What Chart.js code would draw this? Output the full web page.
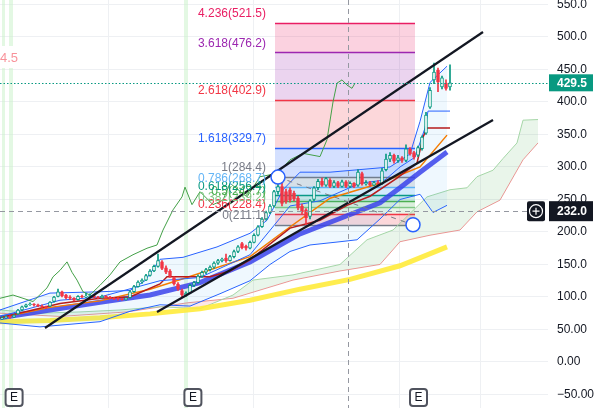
<!DOCTYPE html>
<html>
<head>
<meta charset="utf-8">
<script src="https://cdn.jsdelivr.net/npm/chart.js@4/dist/chart.umd.min.js"></script>
<style>
  body { margin: 0; background: #fff; }
  canvas { display: block; }
</style>
</head>
<body>
<canvas id="price-chart" width="594" height="408"></canvas>
<script>
// Daily candles (bar index 0..112)
var opens = [66,68,70,69,74,80,85,88,89,88, 86,85,86,93,101,108,103,100,98,96,
    101,100,101,102,100,99,101,100,98,98, 97,96,99,108,116,123,126,133,140,147,
    154,145,140,130,120,110,103,106,118,122, 132,138,142,146,152,156,160,156,162,170,
    182,178,175,184,195,208,220,230,240,262, 270,262,265,260,252,240,234,224,250,268,
    278,272,280,270,276,270,277,270,275,272, 290,274,276,272,276,274,296,312,318,310,
    314,310,328,322,318,328,352,392,434,449, 423,429,423];
var highs = [70,71,71,73,81,86,89,91,90,89, 88,86,93,101,112,109,104,102,99,102,
    103,106,105,103,101,103,102,101,99,99, 98,99,110,118,125,128,135,142,149,166,
    156,148,142,131,122,112,108,120,124,134, 140,144,148,154,158,160,166,164,172,179,
    184,180,186,197,210,222,232,242,264,284.4, 276,266,268,263,255,243,236,250,270,281,
    283,284,282,279,278,280,279,277,276,296, 292,279,278,278,279,298,320,322,320,318,
    316,334,330,324,332,348,384,422,460,452, 440,434,457];
var lows = [65,67,67,68,73,79,84,87,86,85, 84,82,85,92,100,100,97,96,94,95,
    99,99,100,99,97,98,99,97,96,95, 95,95,98,107,115,121,125,132,139,146,
    142,136,130,118,110,100,101,105,116,121, 130,136,140,144,150,154,153,155,160,168,
    174,172,174,183,194,207,218,228,238,258, 240,244,246,248,234,228,211.1,220,248,265,
    270,270,268,268,268,269,268,268,268,270, 272,272,270,271,272,273,294,308,306,307,
    307,308,318,312,316,326,350,390,428,416, 420,418,418];
var closes = [68,70,69,72,80,85,88,89,88,86, 85,84,92,100,108,102,99,98,95,101,
    100,101,102,100,99,101,100,98,97,97, 96,98,108,116,123,126,133,140,147,156,
    144,138,132,120,112,103,106,118,122,132, 138,142,146,152,156,158,156,162,170,177,
    176,175,184,195,208,220,230,240,262,270, 244,247,249,251,237,231,222,248,268,278,
    272,282,270,276,270,277,270,275,270,292, 274,276,272,276,274,294,312,318,309,314,
    310,328,320,315,330,346,380,418,446,431, 437,421,429.5];

// Indicators as [bar index, price]
var sma200 = [[-0.5,62],[12,64],[24.5,68],[37,74],[49.5,82],[62,95],[74.5,112],[87,127],[99.5,148],[111.25,177]];
var sma50 = [[-0.5,68],[12,80],[24.5,92],[37,103],[49.5,122],[62,154],[74.5,197],[86.25,225],[94.5,245],[99.5,268],[104.5,292],[111.25,323]];
var ema20 = [[-0.5,68],[12,84],[24.5,94],[37,112],[45.25,128],[62,162],[70.25,200],[82,252],[94.5,275],[104.5,300],[111.25,349]];
var baseLine = [[-0.5,68],[14.5,90],[24.5,98],[32,100],[39.5,120],[41.25,131],[52,131],[57,140],[62,157],[72,206],[79.5,218],[86.25,241],[92,255],[98.75,283],[103.75,306],[105.25,346],[106.25,360],[112,360]];
var convLine = [[-0.5,70],[14.5,95],[24.5,100],[39.5,125],[49.5,130],[62,165],[72,240],[79.5,248],[89.5,275],[95.75,280],[99.5,300],[103.25,315],[105.75,360],[106.5,386],[112,386]];
var bbUpper = [[-0.5,80],[12,106],[24.5,108],[32,110],[35.75,125],[39.5,158],[45.25,161],[53.75,177],[62,198],[66.25,218],[70.25,265],[74.5,292],[82,292],[89.5,296],[97,300],[102,320],[104.5,370],[107,430],[111.25,455]];
var bbLower = [[-0.5,60],[9.5,54],[24.5,62],[32,78],[39.5,88],[47,86],[54.5,105],[62,125],[67,150],[72,170],[77,180],[84.5,185],[88.75,188],[94.5,220],[99.5,250],[104.5,258],[107.75,230],[111.25,241]];
var spanA = [[-0.5,80],[9.5,75],[19.5,77],[29.5,80],[39.5,85],[49.5,82],[57.75,103],[62.75,126],[72.75,134],[84.5,150],[91.25,188],[97.75,203],[106.25,254],[112,265],[116.25,268],[118.75,285],[122.75,295],[125.25,313],[128.75,337],[130.25,372],[134,373]];
var spanB = [[-0.5,75],[14.5,70],[31.25,77],[46.25,91],[57.75,98],[72.75,126],[84.5,140],[94.5,150],[99.5,185],[107,195],[114.5,203],[118.75,231],[124.5,249],[130.25,311],[134,337]];
var lagging = [[-0.5,98],[2.75,103],[7.75,93],[11.25,114],[12.75,131],[14.5,141],[16.25,154],[17.5,138],[18.75,126],[20.25,108],[22,103],[24.5,118],[27,134],[29.5,154],[32.75,165],[36.25,175],[38.75,180],[40.25,203],[42.75,234],[45,254],[45.75,269],[47.5,242],[49.5,262],[52.75,242],[55.25,249],[57,275],[61.25,254],[64.5,285],[68.75,290],[72,311],[75.25,321],[79.5,316],[81.25,342],[82.75,400],[83.75,429],[85,434],[86.25,426],[87.5,421],[88.25,429]];

// Drawings
var trendUpper = [[10.75,52.3],[120.25,507.7]];
var trendLower = [[38.75,76.9],[122.75,372.3]];
var fibAnchors = [[69,284.4],[102.75,211.1]];
var fibRange = [68.25, 103.25];
var fibLevels = [0, 0.236, 0.382, 0.5, 0.618, 0.786, 1, 1.618, 2.618, 3.618, 4.236];
var fibPrices = [211.1, 228.4, 239.2, 247.7, 256.4, 268.7, 284.4, 329.7, 402.9, 476.2, 521.5];
var fibColors = ['#787b86','#f23645','#81c784','#4caf50','#089981','#64b5f6','#787b86','#2962ff','#f23645','#9c27b0','#e91e63'];
var earnBands = [[0,0.75],[1.75,2.75],[45.5,46.5]];
var earnMarks = [2.9, 47.6, 104];
var xGridTicks = [26.5, 62.75, 99.25, 119.5];
var yTicks = [-50,0,50,100,150,200,250,300,350,400,450,500,550];
var lastPrice = 429.5;
var crossPrice = 232.0;
var crossBar = 86.5;
var leftStub = '4.5';

var UP = '#089981', DOWN = '#f23645';

function pts(arr) { return arr.map(function (p) { return {x: p[0], y: p[1]}; }); }
function rgba(hex, a) {
    var n = parseInt(hex.slice(1), 16);
    return 'rgba(' + (n >> 16) + ',' + ((n >> 8) & 255) + ',' + (n & 255) + ',' + a + ')';
}
function line(data, color, width, order, extra) {
    var ds = {type: 'line', data: pts(data), borderColor: color, borderWidth: width,
        pointRadius: 0, tension: 0, fill: false, order: order};
    for (var k in extra) ds[k] = extra[k];
    return ds;
}
function noPad(axis) {
    axis.paddingLeft = 0; axis.paddingRight = 0; axis.paddingTop = 0; axis.paddingBottom = 0;
}

var upDown = closes.map(function (c, i) { return c >= opens[i]; });

var chartExtras = {
    id: 'chartExtras',
    beforeDatasetsDraw: function (chart) {
        var ctx = chart.ctx, area = chart.chartArea, x = chart.scales.x, y = chart.scales.y;
        ctx.save();
        ctx.fillStyle = 'rgba(200,242,200,0.5)';
        earnBands.forEach(function (b) {
            var x1 = x.getPixelForValue(b[0]), x2 = x.getPixelForValue(b[1]);
            ctx.fillRect(x1, area.top, x2 - x1, area.bottom - area.top);
        });
        var fx1 = x.getPixelForValue(fibRange[0]), fx2 = x.getPixelForValue(fibRange[1]);
        for (var k = 1; k < fibPrices.length; k++) {
            var ya = y.getPixelForValue(fibPrices[k - 1]), yb = y.getPixelForValue(fibPrices[k]);
            ctx.fillStyle = rgba(fibColors[k], 0.2);
            ctx.fillRect(fx1, yb, fx2 - fx1, ya - yb);
        }
        ctx.lineWidth = 1.5;
        fibPrices.forEach(function (p, k) {
            var yy = Math.round(y.getPixelForValue(p)) + 0.5;
            ctx.strokeStyle = fibColors[k];
            ctx.beginPath(); ctx.moveTo(fx1, yy); ctx.lineTo(fx2, yy); ctx.stroke();
        });
        ctx.restore();
    },
    afterDatasetsDraw: function (chart) {
        var ctx = chart.ctx, area = chart.chartArea, x = chart.scales.x, y = chart.scales.y;
        ctx.save();
        // fib labels
        var fx1 = x.getPixelForValue(fibRange[0]);
        ctx.font = '12px "Liberation Sans", Arial, sans-serif';
        ctx.textAlign = 'right';
        ctx.textBaseline = 'middle';
        fibPrices.forEach(function (p, k) {
            ctx.fillStyle = fibColors[k];
            ctx.fillText(fibLevels[k] + '(' + p.toFixed(1) + ')', fx1 - 9, y.getPixelForValue(p) - 9);
        });
        // last price dotted line
        var ly = Math.round(y.getPixelForValue(lastPrice)) + 0.5;
        ctx.strokeStyle = UP; ctx.lineWidth = 1.2; ctx.setLineDash([1.5, 2]);
        ctx.beginPath(); ctx.moveTo(area.left, ly); ctx.lineTo(area.right, ly); ctx.stroke();
        // crosshair
        var cx = Math.round(x.getPixelForValue(crossBar)) + 0.5;
        var cy = Math.round(y.getPixelForValue(crossPrice)) + 0.5;
        ctx.lineWidth = 1;
        ctx.strokeStyle = '#9598a1'; ctx.setLineDash([5, 4]);
        ctx.beginPath(); ctx.moveTo(area.left, cy); ctx.lineTo(area.right, cy); ctx.stroke();
        ctx.beginPath(); ctx.moveTo(cx, area.top); ctx.lineTo(cx, area.bottom); ctx.stroke();
        ctx.setLineDash([]);
        // clipped label at far left
        ctx.fillStyle = '#fff';
        ctx.fillRect(0, 46, 20, 22);
        ctx.fillStyle = 'rgba(242,54,69,0.55)';
        ctx.textAlign = 'left';
        ctx.font = '13px "Liberation Sans", Arial, sans-serif';
        ctx.fillText(leftStub, 0, 58);
        ctx.restore();
    },
    afterDraw: function (chart) {
        var ctx = chart.ctx, area = chart.chartArea, x = chart.scales.x, y = chart.scales.y;
        ctx.save();
        ctx.font = 'bold 12px "Liberation Sans", Arial, sans-serif';
        ctx.textBaseline = 'middle';
        ctx.textAlign = 'left';
        // last price tag
        var ly = y.getPixelForValue(lastPrice);
        ctx.fillStyle = UP;
        ctx.fillRect(area.right + 1, ly - 8.5, 44, 17);
        ctx.fillStyle = '#fff';
        ctx.fillText(lastPrice.toFixed(1), area.right + 9, ly + 0.5);
        // crosshair tag
        var cy = y.getPixelForValue(crossPrice);
        ctx.fillStyle = '#131722';
        ctx.beginPath(); ctx.roundRect(area.right - 21, cy - 10, 18, 20, 2); ctx.fill();
        ctx.fillRect(area.right + 1, cy - 10, 44, 20);
        ctx.fillStyle = '#fff';
        ctx.fillText(crossPrice.toFixed(1), area.right + 9, cy + 0.5);
        ctx.strokeStyle = '#fff'; ctx.lineWidth = 1.2;
        var px = area.right - 12;
        ctx.beginPath(); ctx.arc(px, cy, 6.5, 0, Math.PI * 2); ctx.stroke();
        ctx.beginPath(); ctx.moveTo(px - 3.5, cy); ctx.lineTo(px + 3.5, cy);
        ctx.moveTo(px, cy - 3.5); ctx.lineTo(px, cy + 3.5); ctx.stroke();
        // earnings markers
        ctx.font = '12px "Liberation Sans", Arial, sans-serif';
        ctx.textAlign = 'center';
        earnMarks.forEach(function (b) {
            var ex = x.getPixelForValue(b);
            ctx.fillStyle = '#fff'; ctx.strokeStyle = '#50535e'; ctx.lineWidth = 2;
            ctx.beginPath(); ctx.roundRect(ex - 8, area.bottom - 19, 17, 17, 3); ctx.fill(); ctx.stroke();
            ctx.fillStyle = '#131722';
            ctx.fillText('E', ex + 0.5, area.bottom - 10);
        });
        ctx.restore();
    }
};

new Chart(document.getElementById('price-chart'), {
    type: 'line',
    data: {
        datasets: [
            /* 0 */ line(spanA, '#a5d6a7', 1, 30, {fill: {target: 1, above: 'rgba(76,175,80,0.12)', below: 'rgba(242,54,69,0.12)'}}),
            /* 1 */ line(spanB, '#ef9a9a', 1, 31),
            /* 2 */ line(bbUpper, '#2962ff', 1, 24, {fill: {target: 3, above: 'rgba(33,150,243,0.07)', below: 'rgba(33,150,243,0.07)'}}),
            /* 3 */ line(bbLower, '#2962ff', 1, 25),
            /* 4 */ line(sma200, 'rgba(255,235,59,0.9)', 5, 28),
            /* 5 */ line(sma50, 'rgba(60,60,235,0.85)', 5, 27),
            /* 6 */ line(ema20, '#f57c00', 1.5, 22),
            /* 7 */ line(baseLine, '#b71c1c', 1.5, 21),
            /* 8 */ line(convLine, '#2962ff', 1, 20),
            /* 9 */ line(lagging, '#43a047', 1, 19),
            {
                type: 'bar', order: 11, grouped: false, barThickness: 1,
                data: lows.map(function (l, i) { return {x: i, y: [l, highs[i]]}; }),
                backgroundColor: upDown.map(function (u) { return u ? UP : DOWN; })
            },
            {
                type: 'bar', order: 10, grouped: false, barThickness: 3,
                data: closes.map(function (c, i) { return {x: i, y: [opens[i], c]}; }),
                backgroundColor: upDown.map(function (u) { return u ? '#fff' : DOWN; }),
                borderColor: upDown.map(function (u) { return u ? UP : DOWN; }),
                borderWidth: 1, borderSkipped: false
            },
            line(trendUpper, '#131722', 2.2, 5),
            line(trendLower, '#131722', 2.2, 6),
            line(fibAnchors, '#787b86', 1, 4, {borderDash: [5, 5]}),
            line(fibAnchors, '#2962ff', 1.5, 3, {showLine: false, pointRadius: 7,
                pointBackgroundColor: '#fff', pointBorderColor: '#2962ff', pointBorderWidth: 1.5})
        ]
    },
    options: {
        responsive: false,
        animation: false,
        devicePixelRatio: 1,
        layout: {padding: 0, autoPadding: false},
        plugins: {legend: {display: false}, tooltip: {enabled: false}},
        font: {family: '"Liberation Sans", Arial, sans-serif'},
        scales: {
            x: {
                type: 'linear', min: -0.5, max: 136.5, offset: false,
                afterBuildTicks: function (axis) { axis.ticks = xGridTicks.map(function (v) { return {value: v}; }); },
                afterFit: function (axis) { axis.height = 0; noPad(axis); },
                ticks: {display: false},
                grid: {color: '#eef0f3', drawTicks: false, offset: false},
                border: {display: false}
            },
            y: {
                position: 'right', min: -70.8, max: 556.9, beginAtZero: false,
                afterBuildTicks: function (axis) { axis.ticks = yTicks.map(function (v) { return {value: v}; }); },
                afterFit: function (axis) { axis.width = 46; noPad(axis); },
                ticks: {
                    padding: 9, color: '#131722',
                    font: {size: 12, family: '"Liberation Sans", Arial, sans-serif'},
                    callback: function (v) {
                        if (v >= 100) return v.toFixed(1);
                        if (v < 0) return '\u2212' + Math.abs(v).toFixed(2);
                        return v.toFixed(2);
                    }
                },
                grid: {color: '#eef0f3', drawTicks: false},
                border: {display: false}
            }
        }
    },
    plugins: [chartExtras]
});
</script>
</body>
</html>
